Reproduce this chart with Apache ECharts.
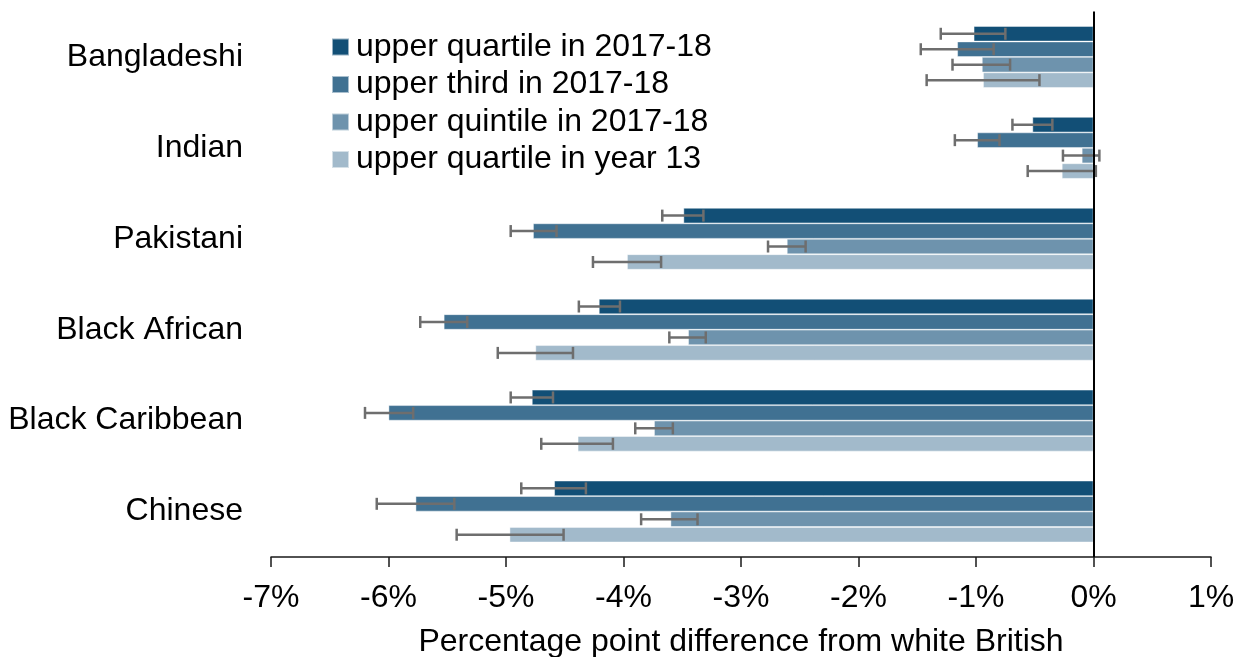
<!DOCTYPE html>
<html>
<head>
<meta charset="utf-8">
<script src="https://cdn.jsdelivr.net/npm/echarts@6/dist/echarts.min.js"></script>
<style>
  html, body { margin: 0; padding: 0; background: #fff; }
  #chart { width: 1240px; height: 657px; }
</style>
</head>
<body>
<div id="chart"></div>
<script>
// Ethnic groups shown on the category axis (top to bottom)
const categories = ['Bangladeshi', 'Indian', 'Pakistani', 'Black African', 'Black Caribbean', 'Chinese'];

// Series names
const seriesNames = [
  'upper quartile in 2017-18',
  'upper third in 2017-18',
  'upper quintile in 2017-18',
  'upper quartile in year 13'
];

// Percentage point difference from white British
const upperQuartile1718 = [-1.02, -0.52, -3.49, -4.21, -4.78, -4.59];
const upperThird1718    = [-1.16, -0.99, -4.77, -5.53, -6.00, -5.77];
const upperQuintile1718 = [-0.95, -0.10, -2.61, -3.45, -3.74, -3.60];
const upperQuartileY13  = [-0.94, -0.27, -3.97, -4.75, -4.39, -4.97];

// Confidence intervals [low, high]
const ciQuartile1718 = [[-1.30, -0.75], [-0.69, -0.35], [-3.67, -3.32], [-4.38, -4.03], [-4.96, -4.60], [-4.87, -4.32]];
const ciThird1718    = [[-1.47, -0.85], [-1.18, -0.80], [-4.96, -4.57], [-5.73, -5.33], [-6.20, -5.79], [-6.10, -5.44]];
const ciQuintile1718 = [[-1.20, -0.71], [-0.26, 0.05], [-2.77, -2.45], [-3.61, -3.30], [-3.90, -3.58], [-3.85, -3.37]];
const ciQuartileY13  = [[-1.42, -0.46], [-0.56, 0.02], [-4.26, -3.68], [-5.07, -4.43], [-4.70, -4.09], [-5.42, -4.51]];

const colors = ['#124f76', '#407192', '#6e93ad', '#a2bacb'];
const values = [upperQuartile1718, upperThird1718, upperQuintile1718, upperQuartileY13];
const intervals = [ciQuartile1718, ciThird1718, ciQuintile1718, ciQuartileY13];

const FONT = "'Liberation Sans', Arial, sans-serif";
const FS = 32;
const CAT_GAP = 0.32;
const N_SERIES = values.length;

// Flatten error-bar rows: [categoryIndex, seriesIndex, low, high]
const errorRows = [];
intervals.forEach((ci, s) => ci.forEach((r, c) => errorRows.push([c, s, r[0], r[1]])));

function renderErrorBar(params, api) {
  const cat = api.value(0);
  const si = api.value(1);
  const lo = api.coord([api.value(2), cat]);
  const hi = api.coord([api.value(3), cat]);
  const band = Math.abs(api.size([0, 1])[1]);
  const bw = band * (1 - CAT_GAP) / N_SERIES;
  const y = lo[1] - (N_SERIES * bw) / 2 + bw * (si + 0.5);
  const cap = 6;
  const style = { stroke: '#6e6e6e', lineWidth: 2.5, fill: null };
  return {
    type: 'group',
    children: [
      { type: 'line', shape: { x1: lo[0], y1: y, x2: hi[0], y2: y }, style },
      { type: 'line', shape: { x1: lo[0], y1: y - cap, x2: lo[0], y2: y + cap }, style },
      { type: 'line', shape: { x1: hi[0], y1: y - cap, x2: hi[0], y2: y + cap }, style }
    ]
  };
}

const barSeries = values.map((v, i) => ({
  name: seriesNames[i],
  type: 'bar',
  data: v,
  barGap: '0%',
  barCategoryGap: (CAT_GAP * 100) + '%',
  itemStyle: { color: colors[i], borderColor: 'rgba(255,255,255,0.55)', borderWidth: 0.8 },
  silent: true,
  markLine: i === 0 ? {
    silent: true,
    symbol: 'none',
    label: { show: false },
    lineStyle: { color: '#000', width: 2, type: 'solid' },
    data: [{ xAxis: 0 }],
    z: 10
  } : undefined
}));

const chart = echarts.init(document.getElementById('chart'), null, { renderer: 'canvas' });
chart.setOption({
  animation: false,
  color: colors,
  textStyle: { fontFamily: FONT },
  grid: { left: 271, right: 29, top: 11.5, bottom: 100, outerBoundsMode: 'none', containLabel: false },
  legend: {
    orient: 'vertical',
    left: 331,
    top: 31,
    padding: 0,
    itemWidth: 17,
    itemHeight: 17,
    itemGap: 5.5,
    icon: 'rect',
    data: seriesNames,
    textStyle: { fontSize: FS, color: '#000', fontFamily: FONT, padding: [0, 0, 0, 2] }
  },
  xAxis: {
    type: 'value',
    min: -7,
    max: 1,
    interval: 1,
    name: 'Percentage point difference from white British',
    nameLocation: 'middle',
    nameGap: 69,
    nameTextStyle: { fontSize: FS, color: '#000', fontFamily: FONT },
    axisLine: { show: true, onZero: false, lineStyle: { color: '#1a1a1a', width: 1.5 } },
    axisTick: { show: true, length: 10, lineStyle: { color: '#1a1a1a', width: 1.5 } },
    axisLabel: { formatter: '{value}%', fontSize: FS, color: '#000', margin: 25, fontFamily: FONT },
    splitLine: { show: false }
  },
  yAxis: {
    type: 'category',
    data: categories,
    inverse: true,
    axisLine: { show: false },
    axisTick: { show: false },
    axisLabel: { fontSize: FS, color: '#000', margin: 28, fontFamily: FONT, padding: [4, 0, 0, 0] },
    splitLine: { show: false }
  },
  series: barSeries.concat([{
    type: 'custom',
    name: 'ci',
    renderItem: renderErrorBar,
    data: errorRows,
    encode: { x: [2, 3], y: 0 },
    z: 5,
    silent: true
  }])
});
</script>
</body>
</html>
